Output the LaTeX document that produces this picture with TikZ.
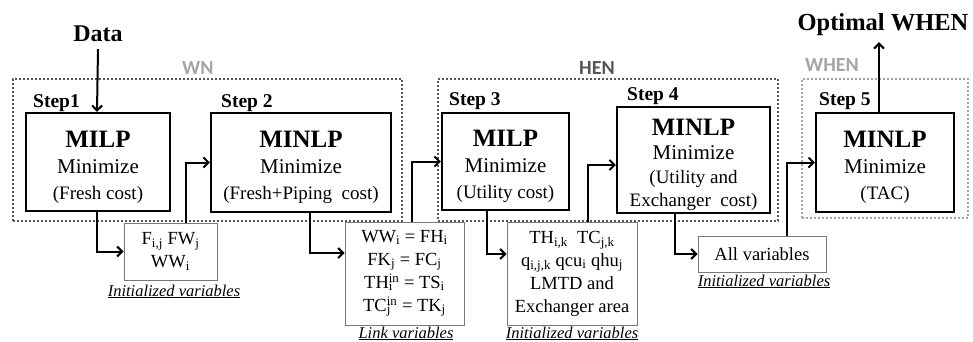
\documentclass[tikz,border=0pt]{standalone}
\usepackage{fontspec}
\setmainfont{Liberation Serif}
\newfontfamily\tagfont{Carlito}
\usetikzlibrary{arrows.meta, positioning}
\pgfdeclarelayer{edgelayer}
\pgfdeclarelayer{nodelayer}
\pgfsetlayers{nodelayer,main,edgelayer}
\definecolor{framegray}{RGB}{85,85,85}
\definecolor{palegray}{RGB}{165,165,165}
\definecolor{boxgray}{RGB}{120,120,120}
\newcommand{\sbsp}[2]{\rlap{\textsubscript{#1}}\textsuperscript{#2}}
\tikzset{
	stepbox/.style={draw, line width=2.2pt, align=center, inner sep=0pt, font={\fontsize{21}{26}\selectfont}},
	varbox/.style={draw=boxgray, line width=0.9pt, align=center, inner sep=0pt, font={\fontsize{18.5}{23}\selectfont}},
	frame/.style={draw=framegray, line width=2pt, dash pattern=on 2pt off 2pt, inner sep=0pt},
	steptag/.style={anchor=base west, inner sep=0pt, font={\fontsize{19.5}{21}\selectfont\bfseries}},
	nettag/.style={anchor=base west, inner sep=0pt, font={\tagfont\fontsize{20}{22}\selectfont\bfseries}},
	vartag/.style={anchor=base, inner sep=0pt, font={\fontsize{16.5}{18}\selectfont\itshape}},
	flow/.style={line width=2pt, -{Straight Barb[length=5pt, width=10pt, line width=2pt]}},
}
\newcommand{\head}[1]{{\fontsize{25}{27}\selectfont\bfseries\rule{0pt}{27pt}#1}}
\newcommand{\goal}[1]{{\fontsize{19}{23}\selectfont #1}}

\begin{document}
\begin{tikzpicture}[x=1pt, y=-1pt]
	\useasboundingbox (0,0) rectangle (973,342);
	\begin{pgfonlayer}{nodelayer}
		% frames
		\node [frame, minimum width=389, minimum height=142] (20) at (207.5, 150) {};
		\node [frame, minimum width=340, minimum height=142] (21) at (608, 150) {};
		\node [frame, draw=palegray, minimum width=166, minimum height=139] (22) at (885, 148.5) {};
		\node [nettag, text=palegray] (23) at (182, 75) {WN};
		\node [nettag, text=framegray] (24) at (579, 75) {HEN};
		\node [nettag, text=palegray] (25) at (805, 72) {WHEN};
		% in and out
		\node [anchor=base, inner sep=0pt, outer sep=7pt, font={\fontsize{24}{26}\selectfont\bfseries}] (0) at (98, 42) {Data};
		\node [anchor=base, inner sep=0pt, outer sep=6pt, font={\fontsize{24.5}{26}\selectfont\bfseries}] (1) at (883, 31) {Optimal WHEN};
		% steps
		\node [stepbox, minimum width=144, minimum height=98] (2) at (98, 162) {\head{MILP}\\Minimize\\\goal{(Fresh cost)}};
		\node [stepbox, minimum width=180, minimum height=99] (3) at (301, 162.5) {\head{MINLP}\\Minimize\\\goal{(Fresh+Piping~ cost)}};
		\node [stepbox, minimum width=127, minimum height=97] (4) at (505.5, 161.5) {\head{MILP}\\Minimize\\\goal{(Utility cost)}};
		\node [stepbox, minimum width=153, minimum height=106] (5) at (693.5, 160) {\head{MINLP}\\[-2pt]Minimize\\[-2pt]\goal{(Utility and}\\[-3pt]\goal{Exchanger~ cost)}};
		\node [stepbox, minimum width=138, minimum height=99] (6) at (885, 162.5) {\head{MINLP}\\Minimize\\\goal{(TAC)}};
		\node [steptag] (15) at (33, 107) {Step1};
		\node [steptag] (16) at (221, 107) {Step 2};
		\node [steptag] (17) at (449, 106) {Step 3};
		\node [steptag] (18) at (627, 100) {Step 4};
		\node [steptag] (19) at (819, 106) {Step 5};
		% variables
		\node [varbox, minimum width=93, minimum height=57] (7) at (170.5, 251.5) {F\textsubscript{i,j} FW\textsubscript{j}\\WW\textsubscript{i}};
		\node [varbox, minimum width=119, minimum height=103] (8) at (404.5, 273.5) {WW\textsubscript{i} = FH\textsubscript{i}\\FK\textsubscript{j} = FC\textsubscript{j}\\TH\sbsp{i}{in} = TS\textsubscript{i}\\TC\sbsp{j}{in} = TK\textsubscript{j}};
		\node [varbox, minimum width=130, minimum height=103] (9) at (572, 273.5) {TH\textsubscript{i,k}~ TC\textsubscript{j,k}\\q\textsubscript{i,j,k} qcu\textsubscript{i} qhu\textsubscript{j}\\LMTD and\\Exchanger area};
		\node [varbox, minimum width=128, minimum height=36] (10) at (762, 254) {All variables};
		\node [vartag] (11) at (174, 296) {\underline{Initialized variables}};
		\node [vartag] (12) at (406, 338) {\underline{Link variables}};
		\node [vartag] (13) at (572, 338) {\underline{Initialized variables}};
		\node [vartag] (14) at (764, 286) {\underline{Initialized variables}};
	\end{pgfonlayer}
	\begin{pgfonlayer}{edgelayer}
		\draw [flow] (0.south) to ([xshift=-1pt]2.north);
		\draw [flow] ([xshift=-1pt]2.south) |- (7.west);
		\draw [flow] ([xshift=15.5pt]7.north) |- (3.west);
		\draw [flow] ([xshift=9pt]3.south) |- ([yshift=20.5pt]8.west);
		\draw [flow] ([xshift=7.5pt]8.north) |- (4.west);
		\draw [flow] ([xshift=-18.5pt]4.south) |- ([yshift=19.5pt]9.west);
		\draw [flow] ([xshift=16pt]9.north) |- ([yshift=-5pt]5.west);
		\draw [flow] ([xshift=-18.5pt]5.south) |- (10.west);
		\draw [flow] ([xshift=25pt]10.north) |- (6.west);
		\draw [flow] ([xshift=-6pt]6.north) to ([xshift=-6pt]6.north |- 1.south);
	\end{pgfonlayer}
\end{tikzpicture}
\end{document}
